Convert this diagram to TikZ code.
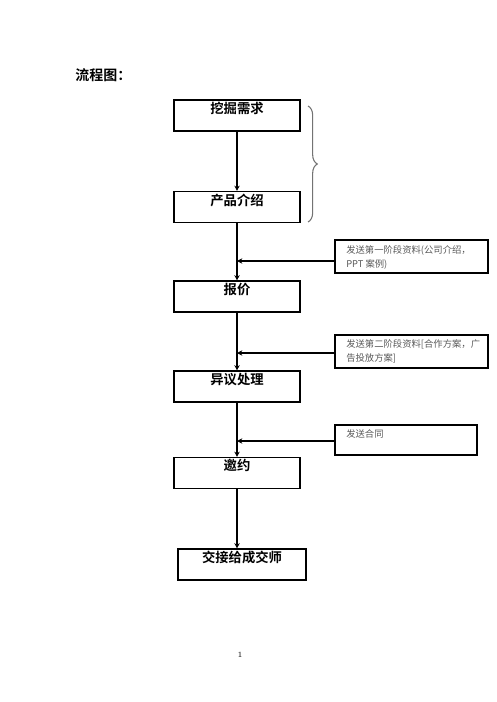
\documentclass[tikz,border=0pt]{standalone}
\usepackage{fontspec}
\newfontfamily\cjk{Noto Sans CJK SC}
\newfontfamily\cjkb{Noto Sans CJK SC Bold}
\usetikzlibrary{arrows.meta,decorations.pathreplacing}
\begin{document}
\begin{tikzpicture}[x=0.75pt,y=-0.75pt,
  stepbox/.style={draw,line width=0.8pt,minimum width=126*0.75pt,minimum height=31*0.75pt,inner sep=0pt},
  lbl/.style={font=\cjkb\fontsize{10}{12}\selectfont,anchor=north,inner sep=0pt},
  notebox/.style={draw,line width=0.8pt,inner sep=0pt},
  notetxt/.style={font=\cjk\fontsize{7}{11}\selectfont,text=black!65,anchor=north west,align=left,inner sep=0pt},
  flow/.style={line width=0.8pt,-{Stealth[length=4pt,width=4pt]}}]
\useasboundingbox (0,0) rectangle (496,702);
\node[font=\cjkb\fontsize{10.5}{12}\selectfont,anchor=west,inner sep=0pt] (title) at (75,75) {流程图：};
% main boxes
\node[stepbox] (b1) at (237,115.5) {};
\node[lbl] (t1) at (237,102) {挖掘需求};
\node[stepbox] (b2) at (237,207) {};
\node[lbl] (t2) at (237,194) {产品介绍};
\node[stepbox] (b3) at (237,296.5) {};
\node[lbl] (t3) at (237,283) {报价};
\node[stepbox] (b4) at (237,386.5) {};
\node[lbl] (t4) at (237,373) {异议处理};
\node[stepbox] (b5) at (237,473) {};
\node[lbl] (t5) at (237,459) {邀约};
\node[stepbox,minimum width=128*0.75pt] (b6) at (242,564.5) {};
\node[lbl] (t6) at (242,551) {交接给成交师};
% notes
\node[notebox,minimum width=153*0.75pt,minimum height=33*0.75pt] (n1) at (411.5,256.5) {};
\node[notetxt] (nt1) at (346,245) {发送第一阶段资料(公司介绍，\\PPT 案例)};
\node[notebox,minimum width=153*0.75pt,minimum height=33*0.75pt] (n2) at (411.5,351.5) {};
\node[notetxt] (nt2) at (346,339) {发送第二阶段资料[合作方案，广\\告投放方案]};
\node[notebox,minimum width=142*0.75pt,minimum height=30*0.75pt] (n3) at (406,440) {};
\node[notetxt] (nt3) at (346,429) {发送合同};
% connectors
\draw[flow] (b1.south) -- (b2.north);
\draw[flow] (b2.south) -- (b3.north);
\draw[flow] (b3.south) -- (b4.north);
\draw[flow] (b4.south) -- (b5.north);
\draw[flow] (b5.south) -- (b5.south |- b6.north);
\coordinate (m1) at (237,261);
\coordinate (m2) at (237,353);
\coordinate (m3) at (237,441);
\draw[flow] (n1.west |- m1) -- (m1);
\draw[flow] (n2.west |- m2) -- (m2);
\draw[flow] (n3.west |- m3) -- (m3);
% brace
\draw[black!55,line width=0.8pt,decorate,decoration={brace,amplitude=7pt}] (308,106) -- (308,222);
\node[font=\fontsize{6}{7}\selectfont,inner sep=0pt] (pg) at (240,655) {1};
\end{tikzpicture}
\end{document}
